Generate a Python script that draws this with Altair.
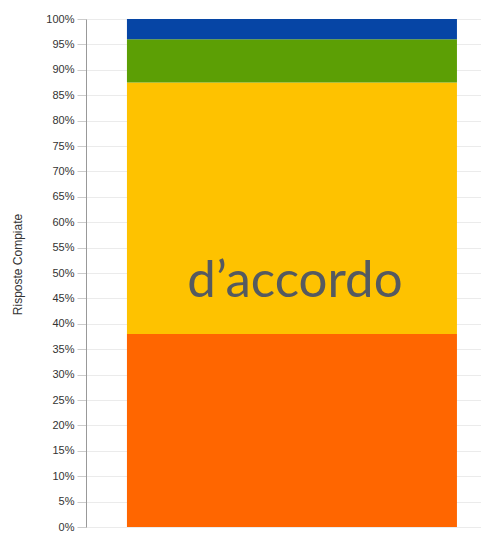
import altair as alt
import pandas as pd

categories = ["Risposte"]
segments = ["molto in disaccordo", "d'accordo", "in disaccordo", "non so"]
values = [38.0, 49.5, 8.5, 4.0]
colors = ["#FF6600", "#FEC200", "#5C9F05", "#0645A5"]
order = [0, 1, 2, 3]
tick_values = list(range(0, 101, 5))

label_text = ["d\u2019accordo"]
label_y = [45.3]

df = pd.DataFrame({
    "cat": categories * len(segments),
    "seg": segments,
    "val": values,
    "ord": order,
})
lab = pd.DataFrame({"cat": categories, "y": label_y, "t": label_text})

xenc = alt.X("cat:N", axis=None,
             scale=alt.Scale(paddingInner=0, paddingOuter=0.0985, align=0.63))

yaxis = alt.Axis(title="Risposte Compiate", values=tick_values,
                 labelExpr="datum.value + '%'", labelOverlap=False,
                 titleFont="Liberation Sans", titleFontSize=12,
                 titleFontWeight="normal", titleColor="#333",
                 titleX=-69, titleY=245, titleBaseline="middle",
                 titleAlign="center",
                 labelFont="Liberation Sans", labelFontSize=11,
                 labelColor="#333", labelPadding=3,
                 tickSize=9, tickColor="#ccc",
                 domainColor="#999", gridColor="#ebebeb")
yscale = alt.Scale(domain=[0, 100], nice=False)

bars = alt.Chart(df).mark_bar(size=330).encode(
    x=xenc,
    y=alt.Y("val:Q", stack="zero", scale=yscale, axis=yaxis),
    color=alt.Color("seg:N", scale=alt.Scale(domain=segments, range=colors), legend=None),
    order=alt.Order("ord:Q"),
)

text = alt.Chart(lab).mark_text(font="Lato", fontSize=51, color="#555A60",
                                baseline="alphabetic", dx=3).encode(
    x=xenc,
    y=alt.Y("y:Q", scale=yscale, axis=yaxis),
    text="t:N",
)

chart = alt.layer(bars, text).properties(
    width=395, height=508,
    autosize=alt.AutoSizeParams(type="none"),
    padding={"left": 78, "top": 11, "right": 0, "bottom": 4},
).configure_view(stroke=None)

chart.save("out.html", embed_options={"renderer": "svg", "actions": False})
